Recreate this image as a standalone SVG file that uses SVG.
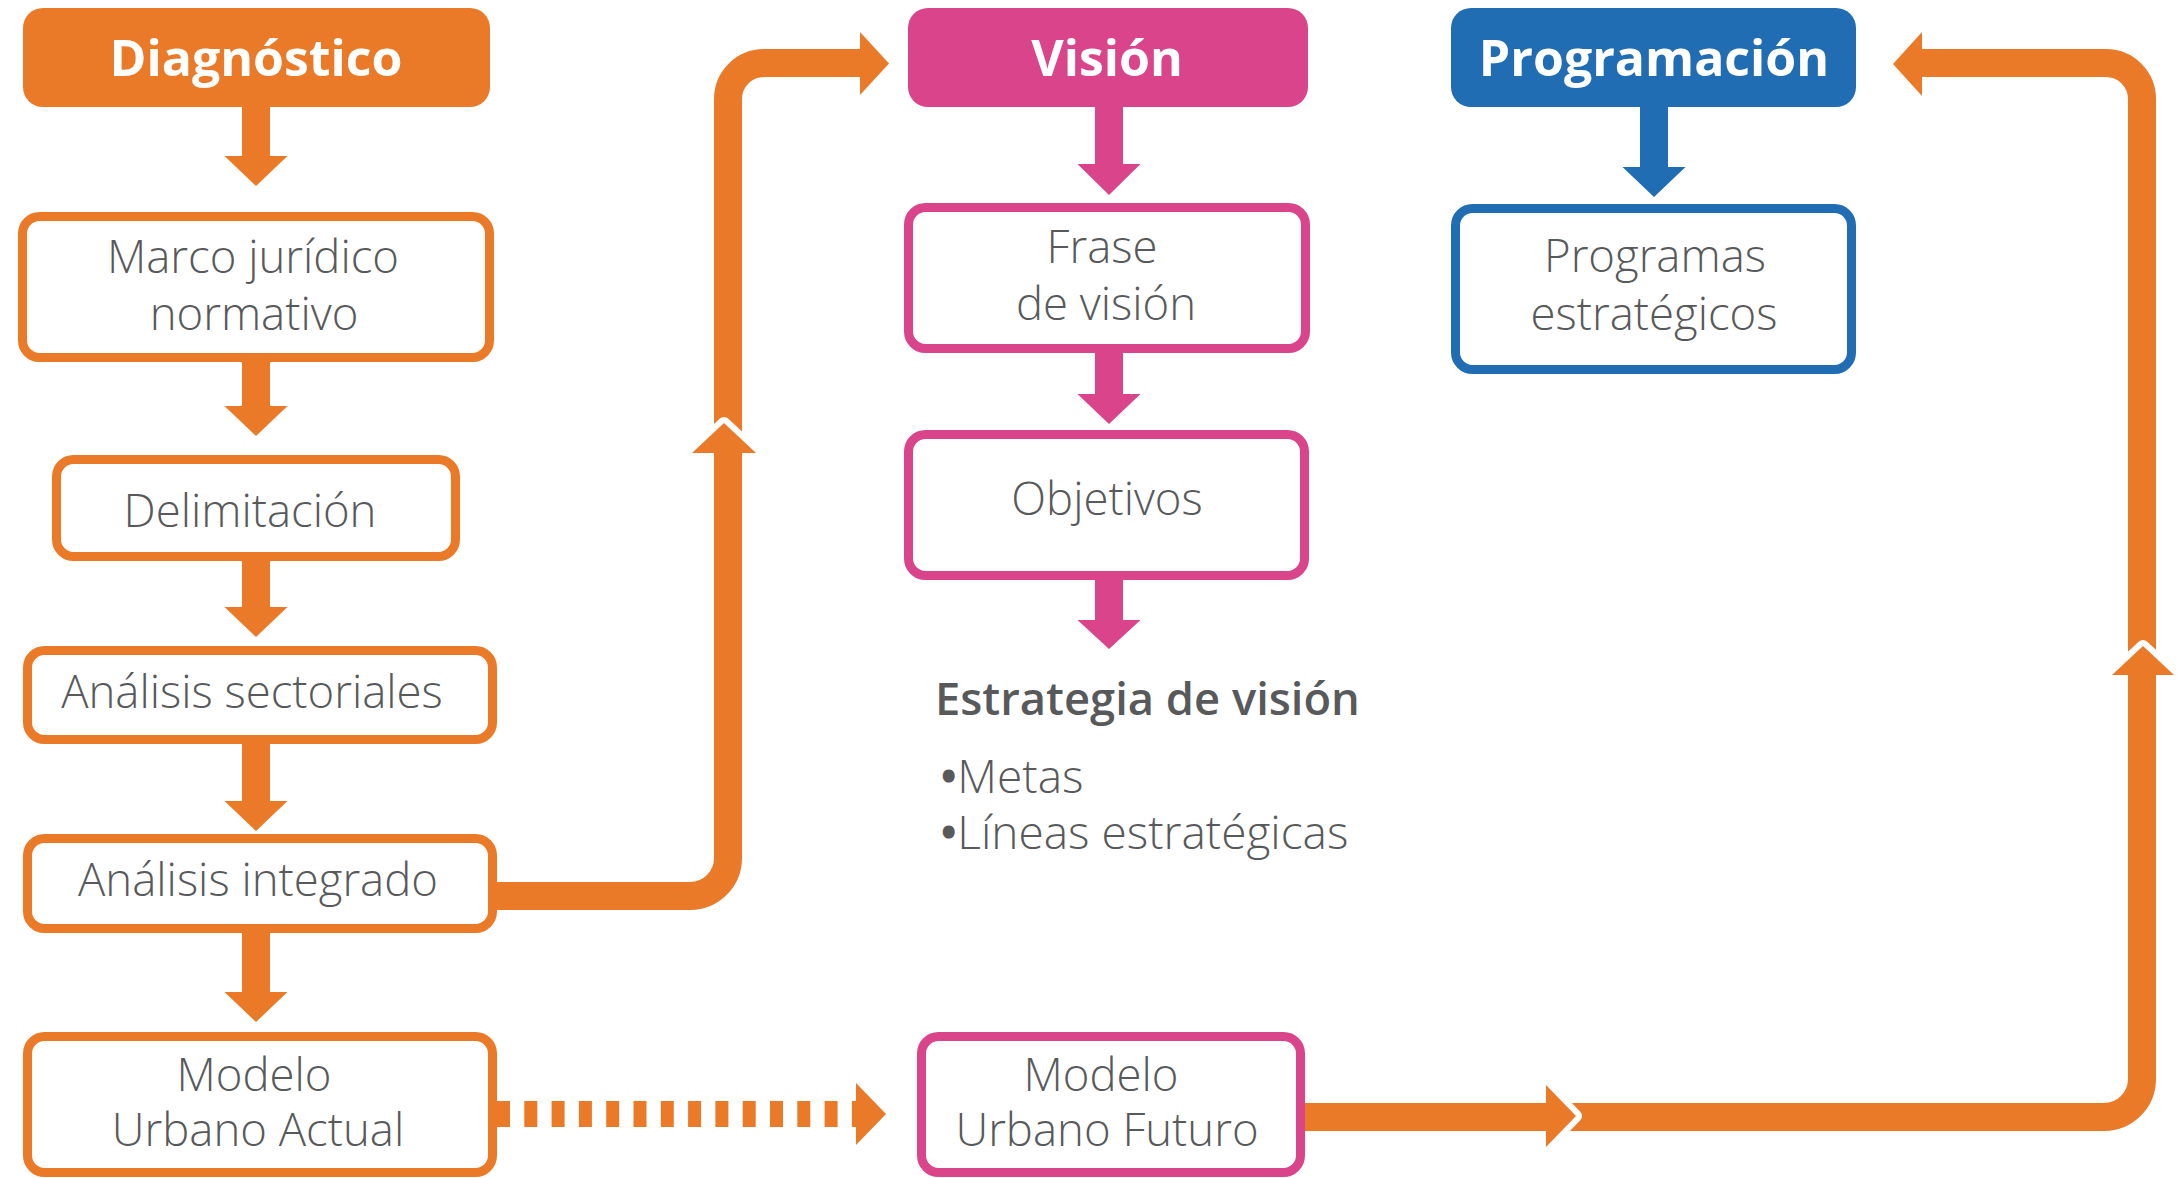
<svg xmlns="http://www.w3.org/2000/svg" width="2181" height="1178" viewBox="0 0 2181 1178">
<style>
.hdr{font-family:"Open Sans","Liberation Sans",sans-serif;font-weight:700;font-size:50px;fill:#fff;text-anchor:middle}
.t{font-family:"Open Sans","Liberation Sans",sans-serif;font-weight:300;font-size:45.5px;fill:#58595b;text-anchor:middle}
.tl{font-family:"Open Sans","Liberation Sans",sans-serif;font-weight:300;font-size:46px;fill:#58595b}
.tb{font-family:"Open Sans","Liberation Sans",sans-serif;font-weight:600;font-size:45.3px;fill:#58595b}
.bul{stroke:#58595b;stroke-width:5;stroke-linejoin:round}
.bo{fill:#fff;stroke:#eb7a28;stroke-width:9}
.bp{fill:#fff;stroke:#d9448a;stroke-width:9}
.bb{fill:#fff;stroke:#206db4;stroke-width:9}
.fo{fill:#eb7a28}
.fp{fill:#d9448a}
.fb{fill:#206db4}
.ln{fill:none;stroke:#eb7a28;stroke-width:28}
.wh{fill:none;stroke:#fff;stroke-width:12;stroke-linejoin:round}
</style>
<rect width="2181" height="1178" fill="#fff"/>

<g id="connectors">
  <!-- Diagnostico column down arrows -->
  <path class="fo" d="M242,107 H270 V156 H287.5 L256,186 L224.5,156 H242 Z"/>
  <path class="fo" d="M242,362 H270 V406 H287.5 L256,436 L224.5,406 H242 Z"/>
  <path class="fo" d="M242,561 H270 V607 H287.5 L256,637 L224.5,607 H242 Z"/>
  <path class="fo" d="M242,744 H270 V801 H287.5 L256,831 L224.5,801 H242 Z"/>
  <path class="fo" d="M242,933 H270 V992 H287.5 L256,1022 L224.5,992 H242 Z"/>
  <!-- Vision column -->
  <path class="fp" d="M1095,107 H1123 V164 H1140.5 L1109,195 L1077.5,164 H1095 Z"/>
  <path class="fp" d="M1095,353 H1123 V394 H1140.5 L1109,424 L1077.5,394 H1095 Z"/>
  <path class="fp" d="M1095,580 H1123 V620 H1140.5 L1109,649 L1077.5,620 H1095 Z"/>
  <!-- Programacion column -->
  <path class="fb" d="M1640,107 H1668 V167 H1685.5 L1654,197 L1622.5,167 H1640 Z"/>

  <!-- Analisis integrado -> Vision -->
  <path class="ln" d="M497,896 H690 A38,38 0 0 0 728,858 V99 A36,36 0 0 1 764,63 H861"/>
  <polyline class="wh" points="692,453 724,423 756,453"/>
  <polygon class="fo" points="692,453 724,423 756,453"/>
  <polygon class="fo" points="860,32 889,63.5 860,95"/>

  <!-- Modelo Urbano Actual -> Modelo Urbano Futuro (dashed) -->
  <line x1="497" y1="1114" x2="857" y2="1114" stroke="#eb7a28" stroke-width="26" stroke-dasharray="13 14.3"/>
  <polygon class="fo" points="856,1083 886,1114 856,1145"/>

  <!-- Modelo Urbano Futuro -> Programacion -->
  <path class="ln" d="M1305,1117 H2104 A38,38 0 0 0 2142,1079 V99 A36,36 0 0 0 2106,63 H1921"/>
  <polyline class="wh" points="1546,1085 1576,1116 1546,1147"/>
  <polygon class="fo" points="1546,1085 1576,1116 1546,1147"/>
  <polyline class="wh" points="2112,675 2143,646 2174,675"/>
  <polygon class="fo" points="2112,675 2143,646 2174,675"/>
  <polygon class="fo" points="1922,32 1893,64 1922,96"/>
</g>

<g id="diagnostico">
  <rect x="23" y="8" width="467" height="99" rx="20" class="fo"/>
  <text class="hdr" x="256" y="76">Diagnóstico</text>
</g>
<g id="marco">
  <rect x="22.5" y="216.5" width="467" height="141" rx="17" class="bo"/>
  <text class="t" x="253" y="273">Marco jurídico</text>
  <text class="t" x="254" y="330">normativo</text>
</g>
<g id="delimitacion">
  <rect x="56.5" y="459.5" width="399" height="97" rx="17" class="bo"/>
  <text class="t" x="250" y="527">Delimitación</text>
</g>
<g id="sectoriales">
  <rect x="27.5" y="650.5" width="465" height="89" rx="17" class="bo"/>
  <text class="t" x="252" y="708">Análisis sectoriales</text>
</g>
<g id="integrado">
  <rect x="27.5" y="838.5" width="465" height="90" rx="17" class="bo"/>
  <text class="t" x="258" y="896">Análisis integrado</text>
</g>
<g id="modelo-actual">
  <rect x="27.5" y="1036.5" width="465" height="136" rx="17" class="bo"/>
  <text class="t" x="254" y="1091">Modelo</text>
  <text class="t" x="258" y="1146">Urbano Actual</text>
</g>

<g id="vision">
  <rect x="908" y="8" width="400" height="99" rx="20" class="fp"/>
  <text class="hdr" x="1107" y="76">Visión</text>
</g>
<g id="frase">
  <rect x="908.5" y="207.5" width="397" height="141" rx="17" class="bp"/>
  <text class="t" x="1102" y="263">Frase</text>
  <text class="t" x="1106" y="320">de visión</text>
</g>
<g id="objetivos">
  <rect x="908.5" y="434.5" width="396" height="141" rx="17" class="bp"/>
  <text class="t" x="1107" y="515">Objetivos</text>
</g>
<g id="estrategia">
  <text class="tb" x="935" y="715">Estrategia de visión</text>
  <text class="tl" x="940" y="793"><tspan class="bul">•</tspan>Metas</text>
  <text class="tl" x="940" y="849"><tspan class="bul">•</tspan>Líneas estratégicas</text>
</g>
<g id="modelo-futuro">
  <rect x="921.5" y="1036.5" width="379" height="136" rx="17" class="bp"/>
  <text class="t" x="1101" y="1091">Modelo</text>
  <text class="t" x="1107" y="1146">Urbano Futuro</text>
</g>

<g id="programacion">
  <rect x="1451" y="8" width="405" height="99" rx="20" class="fb"/>
  <text class="hdr" x="1654" y="76">Programación</text>
</g>
<g id="programas">
  <rect x="1455.5" y="208.5" width="396" height="161" rx="17" class="bb"/>
  <text class="t" x="1655" y="272">Programas</text>
  <text class="t" x="1654" y="330">estratégicos</text>
</g>
</svg>
